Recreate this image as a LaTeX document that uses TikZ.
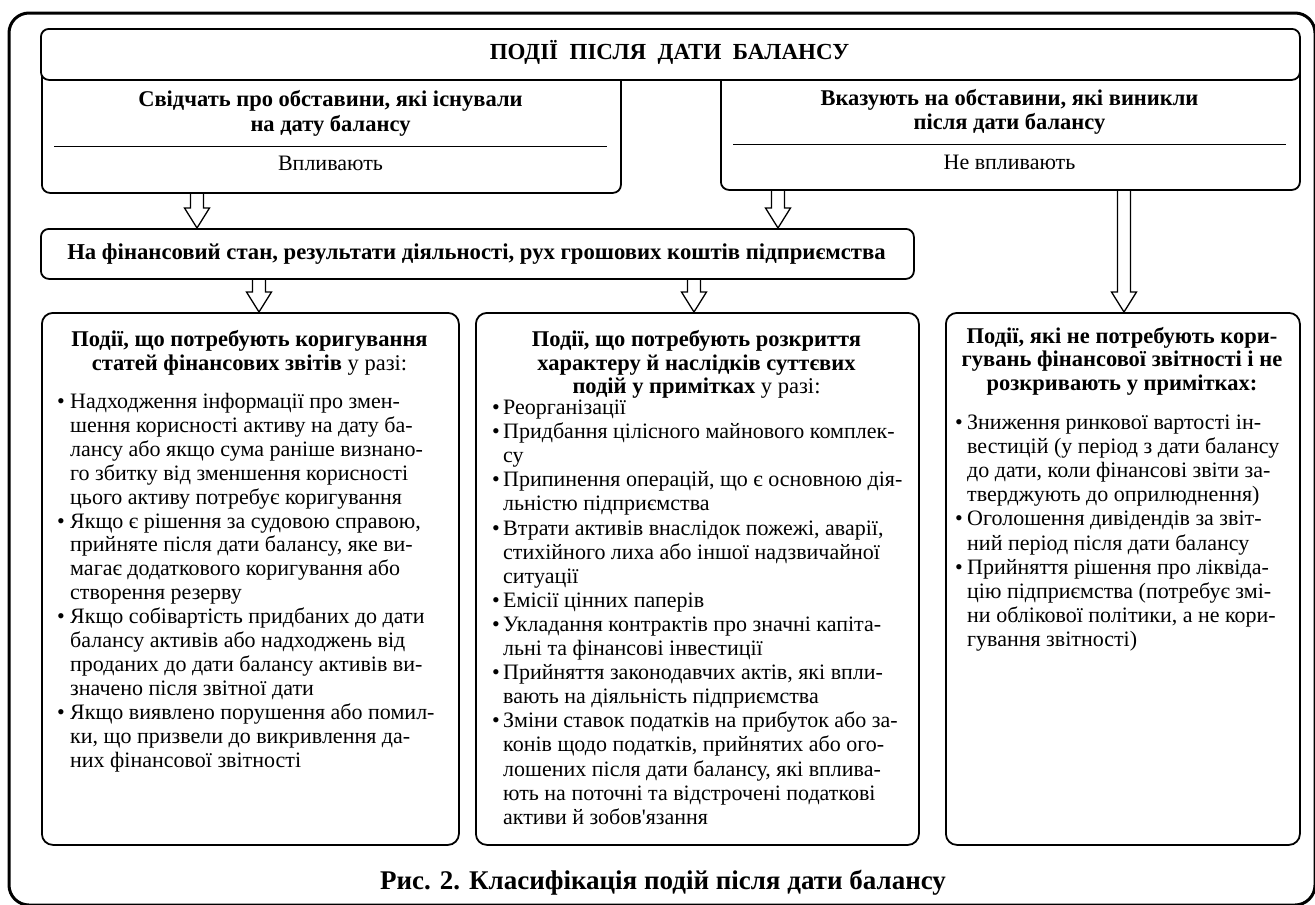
\documentclass[tikz,border=0pt]{standalone}
\usepackage{fontspec}
\setmainfont{Liberation Serif}
\newfontfamily\apfont{Liberation Serif}[Ligatures=TeXOff]
\usetikzlibrary{calc}
\begin{document}
\begin{tikzpicture}[x=1pt,y=-1pt,
  box/.style={draw, line width=1.8pt, rounded corners=8pt, inner sep=0pt, anchor=north west, fill=white},
  bbox/.style={draw, line width=1.8pt, rounded corners=11pt, inner sep=0pt, anchor=north west},
  reg/.style={inner sep=0pt, font=\fontsize{22}{24}\selectfont},
  bld/.style={inner sep=0pt, font=\fontsize{22.5}{24}\selectfont\bfseries},
  rule/.style={line width=0.9pt},
  harrow/.style={draw, line width=1.3pt, line join=miter, to path={let \p1=(\tikztostart), \p2=(\tikztotarget) in
      (\x1-6.5pt,\y1) -- (\x1-6.5pt,\y2+20pt) -- (\x1-12.5pt,\y2+20pt) -- (\x1,\y2)
      -- (\x1+12.5pt,\y2+20pt) -- (\x1+6.5pt,\y2+20pt) -- (\x1+6.5pt,\y1)}}
]
\useasboundingbox (0,0) rectangle (1315,905);
\draw[line width=3pt, rounded corners=20pt] (9,13) rectangle (1315,905);

% upper boxes
\node[box, minimum width=579pt, minimum height=132pt] (lbox) at (41,60) {};
\node[box, minimum width=579pt, minimum height=129pt] (rbox) at (720,60) {};
\node[box, minimum width=1259pt, minimum height=51pt] (top) at (40,28) {};
\node[bld, font=\fontsize{23}{24}\selectfont\bfseries, anchor=base] (toptx) at (669.5,59.5) {ПОДІЇ\ \ ПІСЛЯ\ \ ДАТИ\ \ БАЛАНСУ};

\node[bld, anchor=base] (ltx1) at (330.5,106.5) {Свідчать про обставини, які існували};
\node[bld, anchor=base] (ltx2) at (330.5,131.5) {на дату балансу};
\draw[rule] (54,146) -- (607,146);
\node[reg, anchor=base] (lv) at (330.5,170.5) {Впливають};

\node[bld, anchor=base] (rtx1) at (1009.5,105.5) {Вказують на обставини, які виникли};
\node[bld, anchor=base] (rtx2) at (1009.5,129.5) {після дати балансу};
\draw[rule] (733,144) -- (1286,144);
\node[reg, anchor=base] (rv) at (1009.5,169.5) {Не впливають};

% middle box
\node[box, minimum width=873pt, minimum height=50pt] (mid) at (40,228) {};
\node[bld, font=\fontsize{22.7}{24}\selectfont\bfseries, anchor=base] (midtx) at (476.5,259) {На фінансовий стан, результати діяльності, рух грошових коштів підприємства};

% bottom boxes
\node[bbox, minimum width=417pt, minimum height=532pt] (bl) at (41,312) {};
\node[bbox, minimum width=443pt, minimum height=532pt] (bm) at (475,312) {};
\node[bbox, minimum width=354pt, minimum height=532pt] (br) at (945,312) {};

% arrows
\coordinate (a1) at (197,0);
\coordinate (a2) at (778,0);
\coordinate (a3) at (259,0);
\coordinate (a4) at (694,0);
\coordinate (a5) at (1124,0);
\draw[harrow] (lbox.south -| a1) to (mid.north -| a1);
\draw[harrow] (rbox.south -| a2) to (mid.north -| a2);
\draw[harrow] (mid.south -| a3) to (bl.north -| a3);
\draw[harrow] (mid.south -| a4) to (bm.north -| a4);
\draw[harrow] (rbox.south -| a5) to (br.north -| a5);

% left bottom box
\node[bld, anchor=base] (blt1) at (249.5,346.5) {Події, що потребують коригування};
\node[bld, anchor=base] (blt2) at (249.5,370.5) {статей фінансових звітів {\mdseries у разі:}};
\foreach \k/\t [count=\i] in {
 b/{Надходження інформації про змен-},
 c/{шення корисності активу на дату ба-},
 c/{лансу або якщо сума раніше визнано-},
 c/{го збитку від зменшення корисності},
 c/{цього активу потребує коригування},
 b/{Якщо є рішення за судовою справою,},
 c/{прийняте після дати балансу, яке ви-},
 c/{магає додаткового коригування або},
 c/{створення резерву},
 b/{Якщо собівартість придбаних до дати},
 c/{балансу активів або надходжень від},
 c/{проданих до дати балансу активів ви-},
 c/{значено після звітної дати},
 b/{Якщо виявлено порушення або помил-},
 c/{ки, що призвели до викривлення да-},
 c/{них фінансової звітності}}
 \node[reg, anchor=base west] (bl-\i) at (57,{408.5+(\i-1)*23.9}) {\if\k b\makebox[13pt][l]{•}\else\hspace*{13pt}\fi\t};

% middle bottom box
\node[bld, anchor=base] (bmt1) at (696.5,346.5) {Події, що потребують розкриття};
\node[bld, anchor=base] (bmt2) at (696.5,370.5) {характеру й наслідків суттєвих};
\node[bld, anchor=base] (bmt3) at (696.5,393.5) {подій у примітках {\mdseries у разі:}};
\foreach \k/\t [count=\i] in {
 b/{Реорганізації},
 b/{Придбання цілісного майнового комплек-},
 c/{су},
 b/{Припинення операцій, що є основною дія-},
 c/{льністю підприємства},
 b/{Втрати активів внаслідок пожежі, аварії,},
 c/{стихійного лиха або іншої надзвичайної},
 c/{ситуації},
 b/{Емісії цінних паперів},
 b/{Укладання контрактів про значні капіта-},
 c/{льні та фінансові інвестиції},
 b/{Прийняття законодавчих актів, які впли-},
 c/{вають на діяльність підприємства},
 b/{Зміни ставок податків на прибуток або за-},
 c/{конів щодо податків, прийнятих або ого-},
 c/{лошених після дати балансу, які вплива-},
 c/{ють на поточні та відстрочені податкові},
 c/{активи й зобов{\apfont '}язання}}
 \node[reg, anchor=base west] (bm-\i) at (492,{414.5+(\i-1)*24.1}) {\if\k b\makebox[11pt][l]{•}\else\hspace*{11pt}\fi\t};

% right bottom box
\node[bld, anchor=base] (brt1) at (1122,343) {Події, які не потребують кори-};
\node[bld, anchor=base] (brt2) at (1122,366) {гувань фінансової звітності і не};
\node[bld, anchor=base] (brt3) at (1122,390) {розкривають у примітках:};
\foreach \k/\t [count=\i] in {
 b/{Зниження ринкової вартості ін-},
 c/{вестицій (у період з дати балансу},
 c/{до дати, коли фінансові звіти за-},
 c/{тверджують до оприлюднення)},
 b/{Оголошення дивідендів за звіт-},
 c/{ний період після дати балансу},
 b/{Прийняття рішення про ліквіда-},
 c/{цію підприємства (потребує змі-},
 c/{ни облікової політики, а не кори-},
 c/{гування звітності)}}
 \node[reg, anchor=base west] (br-\i) at (955,{429+(\i-1)*24.2}) {\if\k b\makebox[12pt][l]{•}\else\hspace*{12pt}\fi\t};

% caption
\node[inner sep=0pt, anchor=base, font=\fontsize{27}{30}\selectfont\bfseries] (cap) at (663,889) {Рис. 2. Класифікація подій після дати балансу};
\end{tikzpicture}
\end{document}
